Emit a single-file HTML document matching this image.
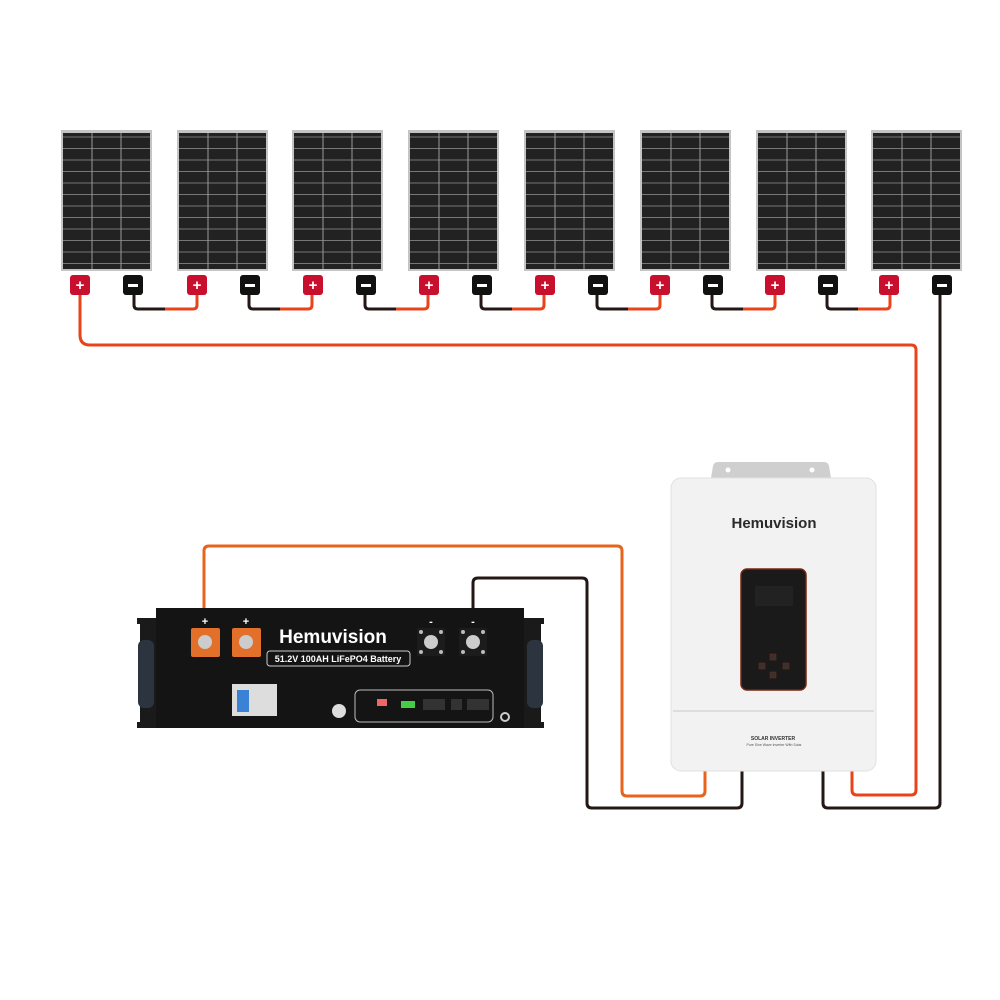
<!DOCTYPE html>
<html><head><meta charset="utf-8"><style>body{margin:0;background:#fff}svg{display:block}</style></head><body>
<svg width="1000" height="1000" viewBox="0 0 1000 1000" xmlns="http://www.w3.org/2000/svg" font-family="Liberation Sans, sans-serif">
<defs>
<pattern id="cells" width="90" height="11.5" patternUnits="userSpaceOnUse" x="62" y="133">
<rect width="90" height="11.5" fill="#222"/>
<line x1="0" y1="0.5" x2="90" y2="0.5" stroke="#777" stroke-width="1"/>
</pattern>
<g id="panel">
<rect x="0" y="0" width="91" height="141" fill="#c4c4c4"/>
<rect x="2" y="3" width="87" height="136" fill="url(#cells)"/>
<line x1="31" y1="3" x2="31" y2="139" stroke="#9a9a9a"/>
<line x1="60" y1="3" x2="60" y2="139" stroke="#9a9a9a"/>
</g>
<g id="term">
<rect x="11" y="0" width="20" height="20" rx="3" fill="#c8102e"/>
<text x="21" y="15" font-size="15" font-weight="bold" fill="#fff" text-anchor="middle">+</text>
<rect x="64" y="0" width="20" height="20" rx="3" fill="#111"/>
<rect x="69" y="9" width="10" height="3" fill="#fff"/>
</g>
<g id="neg">
<rect x="-14" y="-14" width="28" height="28" fill="#1c1c1c"/>
<circle cx="0" cy="0" r="7" fill="#ccc"/>
<g fill="#bbb"><circle cx="-10" cy="-10" r="2"/><circle cx="10" cy="-10" r="2"/><circle cx="-10" cy="10" r="2"/><circle cx="10" cy="10" r="2"/></g>
</g>
</defs>
<g fill="none" stroke-width="3" stroke-linejoin="round">
<g id="sw"><path d="M134 295 V305 Q134 309 138 309 H165" stroke="#231815"/><path d="M165 309 H193 Q197 309 197 305 V295" stroke="#e8431b"/></g>
<use href="#sw" x="115"/><use href="#sw" x="231"/><use href="#sw" x="347"/><use href="#sw" x="463"/><use href="#sw" x="578"/><use href="#sw" x="693"/>
<path d="M80 295 V335 Q80 345 90 345 H911 Q916 345 916 350 V790 Q916 795 911 795 H857 Q852 795 852 790 V770" stroke="#e8431b"/>
<path d="M940 295 V803 Q940 808 935 808 H828 Q823 808 823 803 V770" stroke="#231815"/>
<path d="M204 610 V551 Q204 546 209 546 H617 Q622 546 622 551 V791 Q622 796 627 796 H700 Q705 796 705 791 V770" stroke="#e8631b"/>
<path d="M473 610 V583 Q473 578 478 578 H582 Q587 578 587 583 V803 Q587 808 592 808 H737 Q742 808 742 803 V770" stroke="#231815"/>
</g>
<use href="#panel" x="61" y="130"/><use href="#panel" x="177" y="130"/><use href="#panel" x="292" y="130"/><use href="#panel" x="408" y="130"/>
<use href="#panel" x="524" y="130"/><use href="#panel" x="640" y="130"/><use href="#panel" x="756" y="130"/><use href="#panel" x="871" y="130"/>
<use href="#term" x="59" y="275"/><use href="#term" x="176" y="275"/><use href="#term" x="292" y="275"/><use href="#term" x="408" y="275"/>
<use href="#term" x="524" y="275"/><use href="#term" x="639" y="275"/><use href="#term" x="754" y="275"/><use href="#term" x="868" y="275"/>
<!-- battery -->
<path d="M137 618 H160 V728 H137 V722 H140 V624 H137 Z" fill="#1a1a1a"/>
<path d="M544 618 H520 V728 H544 V722 H541 V624 H544 Z" fill="#1a1a1a"/>
<rect x="138" y="640" width="16" height="68" rx="6" fill="#2c3440"/>
<rect x="527" y="640" width="16" height="68" rx="6" fill="#2c3440"/>
<rect x="156" y="608" width="368" height="120" fill="#141414"/>
<g fill="#e2702b"><rect x="191" y="628" width="29" height="29" rx="2"/><rect x="232" y="628" width="29" height="29" rx="2"/></g>
<use href="#neg" x="431" y="642"/><use href="#neg" x="473" y="642"/>
<g fill="#ccc"><circle cx="205" cy="642" r="7"/><circle cx="246" cy="642" r="7"/></g>
<g fill="#fff" font-weight="bold" font-size="11" text-anchor="middle"><text x="205" y="625">+</text><text x="246" y="625">+</text><text x="431" y="625">-</text><text x="473" y="625">-</text></g>
<text x="333" y="643" font-size="19" font-weight="bold" fill="#fff" text-anchor="middle">Hemuvision</text>
<rect x="267" y="651" width="143" height="15" rx="3" fill="none" stroke="#ccc"/>
<text x="338" y="662" font-size="9" font-weight="bold" fill="#fff" text-anchor="middle">51.2V 100AH LiFePO4 Battery</text>
<rect x="232" y="684" width="45" height="32" fill="#ddd"/><rect x="237" y="690" width="12" height="22" fill="#3a82d6"/>
<circle cx="339" cy="711" r="7" fill="#ddd"/>
<rect x="355" y="690" width="138" height="32" rx="5" fill="none" stroke="#bbb"/>
<rect x="377" y="699" width="10" height="7" fill="#e66"/><rect x="401" y="701" width="14" height="7" fill="#4c4"/>
<g fill="#333"><rect x="423" y="699" width="22" height="11"/><rect x="451" y="699" width="11" height="11"/><rect x="467" y="699" width="22" height="11"/></g>
<circle cx="505" cy="717" r="4" fill="none" stroke="#ccc" stroke-width="2"/>
<!-- inverter -->
<path d="M711 478 L713 466 Q714 462 718 462 H824 Q828 462 829 466 L831 478 Z" fill="#cfcfcf"/>
<circle cx="728" cy="470" r="2.5" fill="#fff"/><circle cx="812" cy="470" r="2.5" fill="#fff"/>
<rect x="671" y="478" width="205" height="293" rx="10" fill="#f2f2f2" stroke="#e0e0e0"/>
<line x1="673" y1="711" x2="874" y2="711" stroke="#c8c8c8"/>
<text x="774" y="528" font-size="15" font-weight="bold" fill="#2a2a2a" text-anchor="middle">Hemuvision</text>
<rect x="741" y="569" width="65" height="121" rx="6" fill="#1a1a1a" stroke="#7a2510" stroke-width="1.5"/>
<rect x="755" y="586" width="38" height="20" fill="#222"/>
<g fill="#333" stroke="#7a2510" stroke-width="0.6"><rect x="770" y="654" width="6" height="6"/><rect x="759" y="663" width="6" height="6"/><rect x="783" y="663" width="6" height="6"/><rect x="770" y="672" width="6" height="6"/></g>
<text x="773" y="740" font-size="5" font-weight="bold" fill="#333" text-anchor="middle">SOLAR INVERTER</text>
<text x="774" y="746" font-size="3.5" fill="#555" text-anchor="middle">Pure Sine Wave Inverter With Solar</text>
</svg>
</body></html>
